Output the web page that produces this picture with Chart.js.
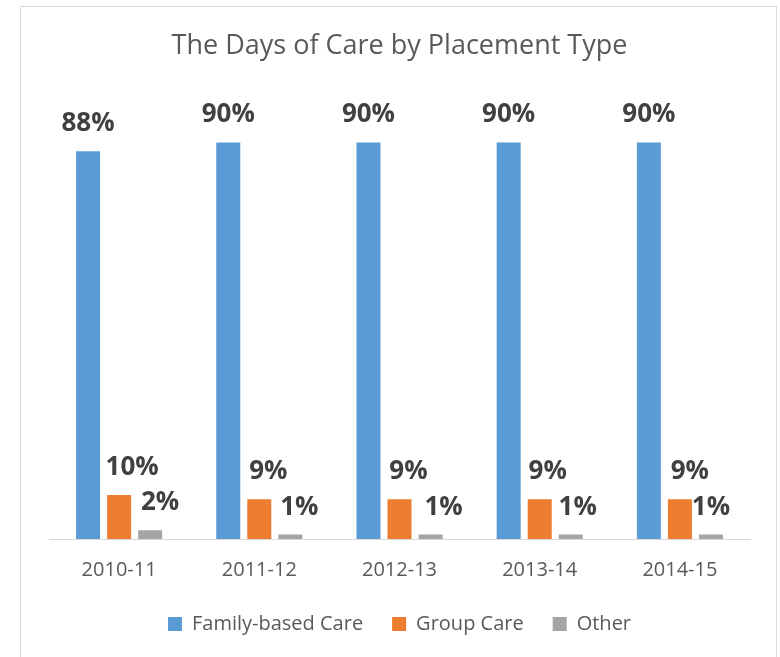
<!DOCTYPE html>
<html>
<head>
<meta charset="utf-8">
<script src="https://cdn.jsdelivr.net/npm/chart.js@4.4.1/dist/chart.umd.min.js"></script>
<style>
  html, body { margin: 0; padding: 0; background: #fff; overflow: hidden; }
  #wrap { width: 780px; height: 657px; }
</style>
</head>
<body>
<div id="wrap"><canvas id="chart"></canvas></div>
<script>
'use strict';

var years = ['2010-11', '2011-12', '2012-13', '2013-14', '2014-15'];
var familyCare = [88, 90, 90, 90, 90];
var groupCare = [10, 9, 9, 9, 9];
var otherCare = [2, 1, 1, 1, 1];

var textColor = '#595959';
var fontFamily = '"Open Sans", "Noto Sans", sans-serif';

// frame round the chart, like the Excel chart border
var framePlugin = {
  id: 'frame',
  beforeDraw: function (chart) {
    var ctx = chart.ctx;
    ctx.save();
    ctx.fillStyle = '#fff';
    ctx.fillRect(0, 0, chart.width, chart.height);
    ctx.strokeStyle = '#D9D9D9';
    ctx.lineWidth = 1;
    ctx.beginPath();
    ctx.moveTo(20.5, chart.height);
    ctx.lineTo(20.5, 6.5);
    ctx.lineTo(776.5, 6.5);
    ctx.lineTo(776.5, chart.height);
    ctx.stroke();
    ctx.restore();
  }
};

// bold percent labels above the bars
var valueLabels = {
  id: 'valueLabels',
  afterDatasetsDraw: function (chart, args, opts) {
    var ctx = chart.ctx;
    ctx.save();
    ctx.font = 'bold 26px ' + fontFamily;
    ctx.fillStyle = '#404040';
    ctx.textAlign = 'center';
    ctx.textBaseline = 'alphabetic';
    chart.data.datasets.forEach(function (ds, di) {
      chart.getDatasetMeta(di).data.forEach(function (bar, i) {
        var dx = opts.shift[di][i];
        ctx.fillText(ds.data[i] + '%', bar.x + dx, bar.y - 20);
      });
    });
    ctx.restore();
  }
};

var createDataset = function (label, data, color) {
  return {
    label: label, data: data, backgroundColor: color, borderWidth: 0,
    categoryPercentage: 0.664, barPercentage: 0.774
  };
};

new Chart(document.getElementById('chart'), {
  type: 'bar',
  data: {
    labels: years,
    datasets: [
      createDataset('Family-based Care', familyCare, '#5B9BD5'),
      createDataset('Group Care', groupCare, '#ED7D31'),
      createDataset('Other', otherCare, '#A5A5A5')
    ]
  },
  options: {
    responsive: true,
    maintainAspectRatio: false,
    animation: false,
    layout: { padding: { left: 49, right: 30, top: 0, bottom: 13 } },
    scales: {
      x: {
        grid: { display: false, drawTicks: false },
        border: { display: true, color: '#D9D9D9', width: 1 },
        ticks: { color: textColor, font: { family: fontFamily, size: 20 }, padding: 19, maxRotation: 0 },
        afterFit: function (scale) { scale.height -= 16; }
      },
      y: { display: false, min: 0, max: 100 }
    },
    plugins: {
      title: {
        display: true,
        text: 'The Days of Care by Placement Type',
        color: textColor,
        font: { family: fontFamily, size: 27, weight: 'normal' },
        padding: { top: 30, bottom: 36 }
      },
      legend: {
        position: 'bottom',
        labels: {
          color: textColor,
          font: { family: fontFamily, size: 20 },
          boxWidth: 14, boxHeight: 14, padding: 29
        }
      },
      tooltip: { enabled: false },
      valueLabels: {
        shift: [[0, 0, 0, 0, 0], [13, 9, 9, 8, 10], [10, 9, 13, 7, 0]]
      }
    }
  },
  plugins: [framePlugin, valueLabels]
});
</script>
</body>
</html>
